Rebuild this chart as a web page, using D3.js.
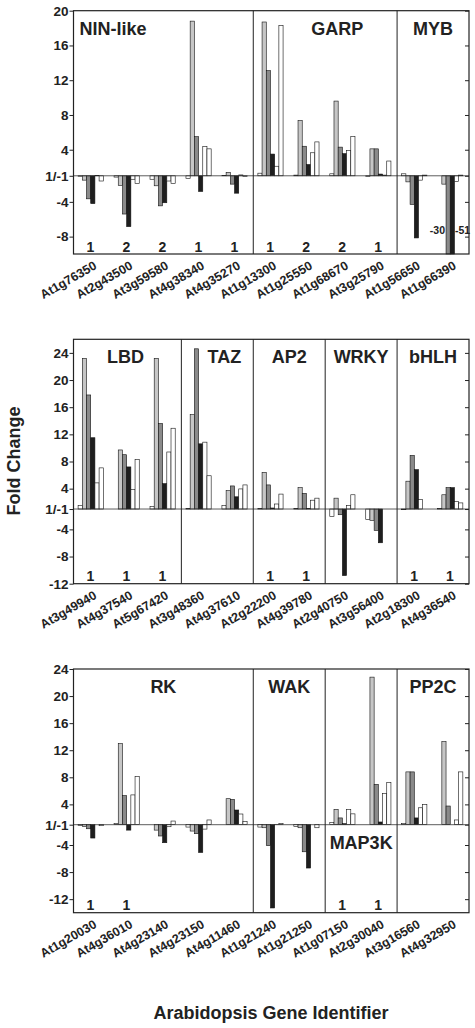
<!DOCTYPE html>
<html><head><meta charset="utf-8">
<script src="https://cdn.jsdelivr.net/npm/d3@7"></script>
<style>body{margin:0;background:#fff}svg{display:block}text{font-family:"Liberation Sans",Arial,sans-serif;font-weight:bold;fill:#222}</style>
</head><body><svg id="c" width="475" height="1028"></svg>
<script>
// ---- data ----
const p1Genes = ["At1g76350","At2g43500","At3g59580","At4g38340","At4g35270","At1g13300","At1g25550","At1g68670","At3g25790","At1g56650","At1g66390"];
const p1Families = ["NIN-like","GARP","MYB"];
const p1FamilySizes = [5,4,2];
const p1Counts = ["1","2","2","1","1","1","2","2","1","",""];
const p1Values = [
 [-1.05,-1.5,-3.65,-4.2,1.05,-1.6],
 [-1.15,-2.1,-5.4,-6.85,-1.4,-1.9],
 [-1.4,-2.15,-4.46,-4.1,-1.6,-1.9],
 [-1.3,18.8,5.5,-2.8,4.35,4.1],
 [1.05,1.4,-1.96,-3.0,1.1,-1.08],
 [1.3,18.7,13.1,3.5,2.1,18.3],
 [1.08,7.35,4.4,2.3,3.65,4.9],
 [1.23,9.6,4.3,3.55,3.9,5.5],
 [-1.1,4.1,4.1,1.2,1.08,2.7],
 [1.23,-1.7,-4.3,-8.15,-1.5,1.08],
 [1.0,-1.96,-30,-51,-1.65,1.08]];
const p1Ticks = [20,16,12,8,4,1,-4,-8];

const p2Genes = ["At3g49940","At4g37540","At5g67420","At3g48360","At4g37610","At2g22200","At4g39780","At2g40750","At3g56400","At2g18300","At4g36540"];
const p2Families = ["LBD","TAZ","AP2","WRKY","bHLH"];
const p2FamilySizes = [3,2,2,2,2];
const p2Counts = ["1","1","1","","","1","1","","","1","1"];
const p2Values = [
 [1.5,23.2,17.8,11.5,4.85,7.06],
 [1.0,9.7,9.0,7.2,3.86,8.3],
 [1.4,23.2,13.6,4.74,9.4,12.9],
 [1.05,14.9,24.6,10.6,10.85,5.9],
 [1.5,3.7,4.4,2.8,3.96,4.55],
 [1.1,6.4,4.55,1.15,1.74,3.2],
 [1.05,4.15,3.3,1.05,2.3,2.6],
 [-2.13,2.6,-1.84,-10.8,1.54,3.1],
 [-2.53,-2.67,-4.15,-5.97,1.0,1.0],
 [-1.1,5.1,8.9,6.8,2.4,1.0],
 [1.05,3.1,4.15,4.15,2.1,1.9]];
const p2Ticks = [24,20,16,12,8,4,1,-4,-8,-12];

const p3Genes = ["At1g20030","At4g36010","At4g23140","At4g23150","At4g11460","At1g21240","At1g21250","At1g07150","At2g30040","At3g16560","At4g32950"];
const p3Families = ["RK","WAK","MAP3K","PP2C"];
const p3FamilySizes = [5,2,2,2];
const p3Counts = ["1","1","","","","","","1","1","",""];
const p3Values = [
 [-1.1,-1.25,-1.6,-2.97,1.0,-1.15],
 [1.15,12.97,5.3,-1.8,5.4,8.1],
 [1.0,-1.8,-2.67,-3.66,-1.3,1.54],
 [-1.35,-1.94,-2.33,-5.1,-1.65,1.7],
 [1.0,4.84,4.74,3.17,2.58,1.5],
 [-1.35,-1.45,-4.1,-13.3,1.05,1.15],
 [-1.25,-1.45,-5.0,-7.4,1.0,-1.45],
 [1.3,3.27,2.0,1.15,3.27,2.6],
 [1.0,22.8,6.96,1.4,5.6,7.26],
 [1.15,8.8,8.8,2.0,3.5,4.0],
 [1.0,13.27,3.76,1.0,1.7,8.8]];
const p3Ticks = [24,20,16,12,8,4,1,-4,-8,-12];

const seriesColors = ["#ffffff","#c6c6c6","#8a8a8a","#1e1e1e","#ffffff","#ffffff"];
const clippedLabels = {"At1g66390":["-30","-51"]};

// ---- drawing ----
const svg = d3.select("#c");
const tr = v => v >= 1 ? v - 1 : (v <= -1 ? v + 1 : 0);
const L = 73.5, R = 469;

function panel(genes, fams, sizes, counts, values, ticks, top, bottom, dom) {
  const g = svg.append("g");
  const y = d3.scaleLinear().domain(dom).range([bottom, top]).clamp(true);
  const x0 = d3.scaleBand().domain(genes).range([L, R]);
  const x1 = d3.scaleBand().domain(d3.range(6)).range([4.6, 29.8]);
  genes.forEach((gn, i) => {
    const gg = g.append("g").attr("transform", `translate(${x0(gn)},0)`);
    gg.selectAll("rect").data(values[i]).join("rect")
      .attr("x", (d, j) => x1(j)).attr("width", x1.bandwidth())
      .attr("y", d => Math.min(y(tr(d)), y(0)))
      .attr("height", d => Math.abs(y(tr(d)) - y(0)))
      .attr("fill", (d, j) => seriesColors[j])
      .attr("stroke", "#111").attr("stroke-width", 0.6);
  });
  g.append("line").attr("x1", L).attr("x2", R).attr("y1", y(0)).attr("y2", y(0))
    .attr("stroke", "#333").attr("stroke-width", 0.8);
  const fmt = v => v === 1 ? "1/-1" : String(v);
  const la = g.append("g").attr("transform", `translate(${L},0)`)
    .call(d3.axisLeft(y).tickValues(ticks.map(tr)).tickFormat((d, i) => fmt(ticks[i])).tickSize(4).tickPadding(1));
  la.select(".domain").remove();
  la.attr("font-family", null).attr("font-size", null);
  la.selectAll("text").style("font-size", "13.5px").attr("fill", "#222");
  la.selectAll("line").attr("stroke", "#222");
  const ra = g.append("g").attr("transform", `translate(${R},0)`)
    .call(d3.axisLeft(y).tickValues(ticks.map(tr)).tickFormat("").tickSize(4));
  ra.select(".domain").remove();
  ra.selectAll("line").attr("stroke", "#222");
  g.append("rect").attr("x", L).attr("y", top).attr("width", R - L).attr("height", bottom - top)
    .attr("fill", "none").attr("stroke", "#222").attr("stroke-width", 1.2);
  let idx = 0;
  fams.forEach((f, k) => {
    const xs = x0(genes[idx]);
    const xe = x0(genes[idx + sizes[k] - 1]) + x0.bandwidth();
    if (k > 0) g.append("line").attr("x1", xs).attr("x2", xs).attr("y1", top).attr("y2", bottom).attr("stroke", "#222").attr("stroke-width", 1);
    let lx = (xs + xe) / 2, anchor = "middle", ly = top + 24;
    if (f === "NIN-like") { lx = xs + 6; anchor = "start"; }
    if (f === "GARP") { lx = (xs + xe) / 2 + 12; }
    if (f === "TAZ") { lx = (xs + xe) / 2 + 7; }
    if (f === "LBD") { lx = (xs + xe) / 2 - 2; }
    if (f === "MAP3K") { ly = y(0) + 24; }
    g.append("text").attr("x", lx).attr("y", ly).attr("text-anchor", anchor).style("font-size", "18px").text(f);
    idx += sizes[k];
  });
  genes.forEach((gn, i) => {
    if (counts[i]) g.append("text").attr("x", x0(gn) + x0.bandwidth() / 2 - 1).attr("y", bottom - 2.5)
      .attr("text-anchor", "middle").style("font-size", "14px").text(counts[i]);
    if (clippedLabels[gn]) {
      const cx = x0(gn);
      g.append("text").attr("x", cx + x1(2) - 1).attr("y", bottom - 20).attr("text-anchor", "end").style("font-size", "10.5px").text(clippedLabels[gn][0]);
      g.append("text").attr("x", cx + x1(4) + 0.5).attr("y", bottom - 20).attr("text-anchor", "start").style("font-size", "10.5px").text(clippedLabels[gn][1]);
    }
    g.append("text").attr("transform", `translate(${x0(gn) + x0.bandwidth() / 2 + 6},${bottom + 14}) rotate(-30)`)
      .attr("text-anchor", "end").style("font-size", "12.5px").text(gn);
  });
}

panel(p1Genes, p1Families, p1FamilySizes, p1Counts, p1Values, p1Ticks, 10.7, 254, [-9, 19]);
panel(p2Genes, p2Families, p2FamilySizes, p2Counts, p2Values, p2Ticks, 339.3, 583.7, [-11, 25]);
panel(p3Genes, p3Families, p3FamilySizes, p3Counts, p3Values, p3Ticks, 669, 912.7, [-13, 23]);

svg.append("text").attr("transform", "translate(20,461) rotate(-90)").attr("text-anchor", "middle").style("font-size", "18px").text("Fold Change");
svg.append("text").attr("x", 271).attr("y", 1019).attr("text-anchor", "middle").style("font-size", "18px").text("Arabidopsis Gene Identifier");
</script></body></html>
